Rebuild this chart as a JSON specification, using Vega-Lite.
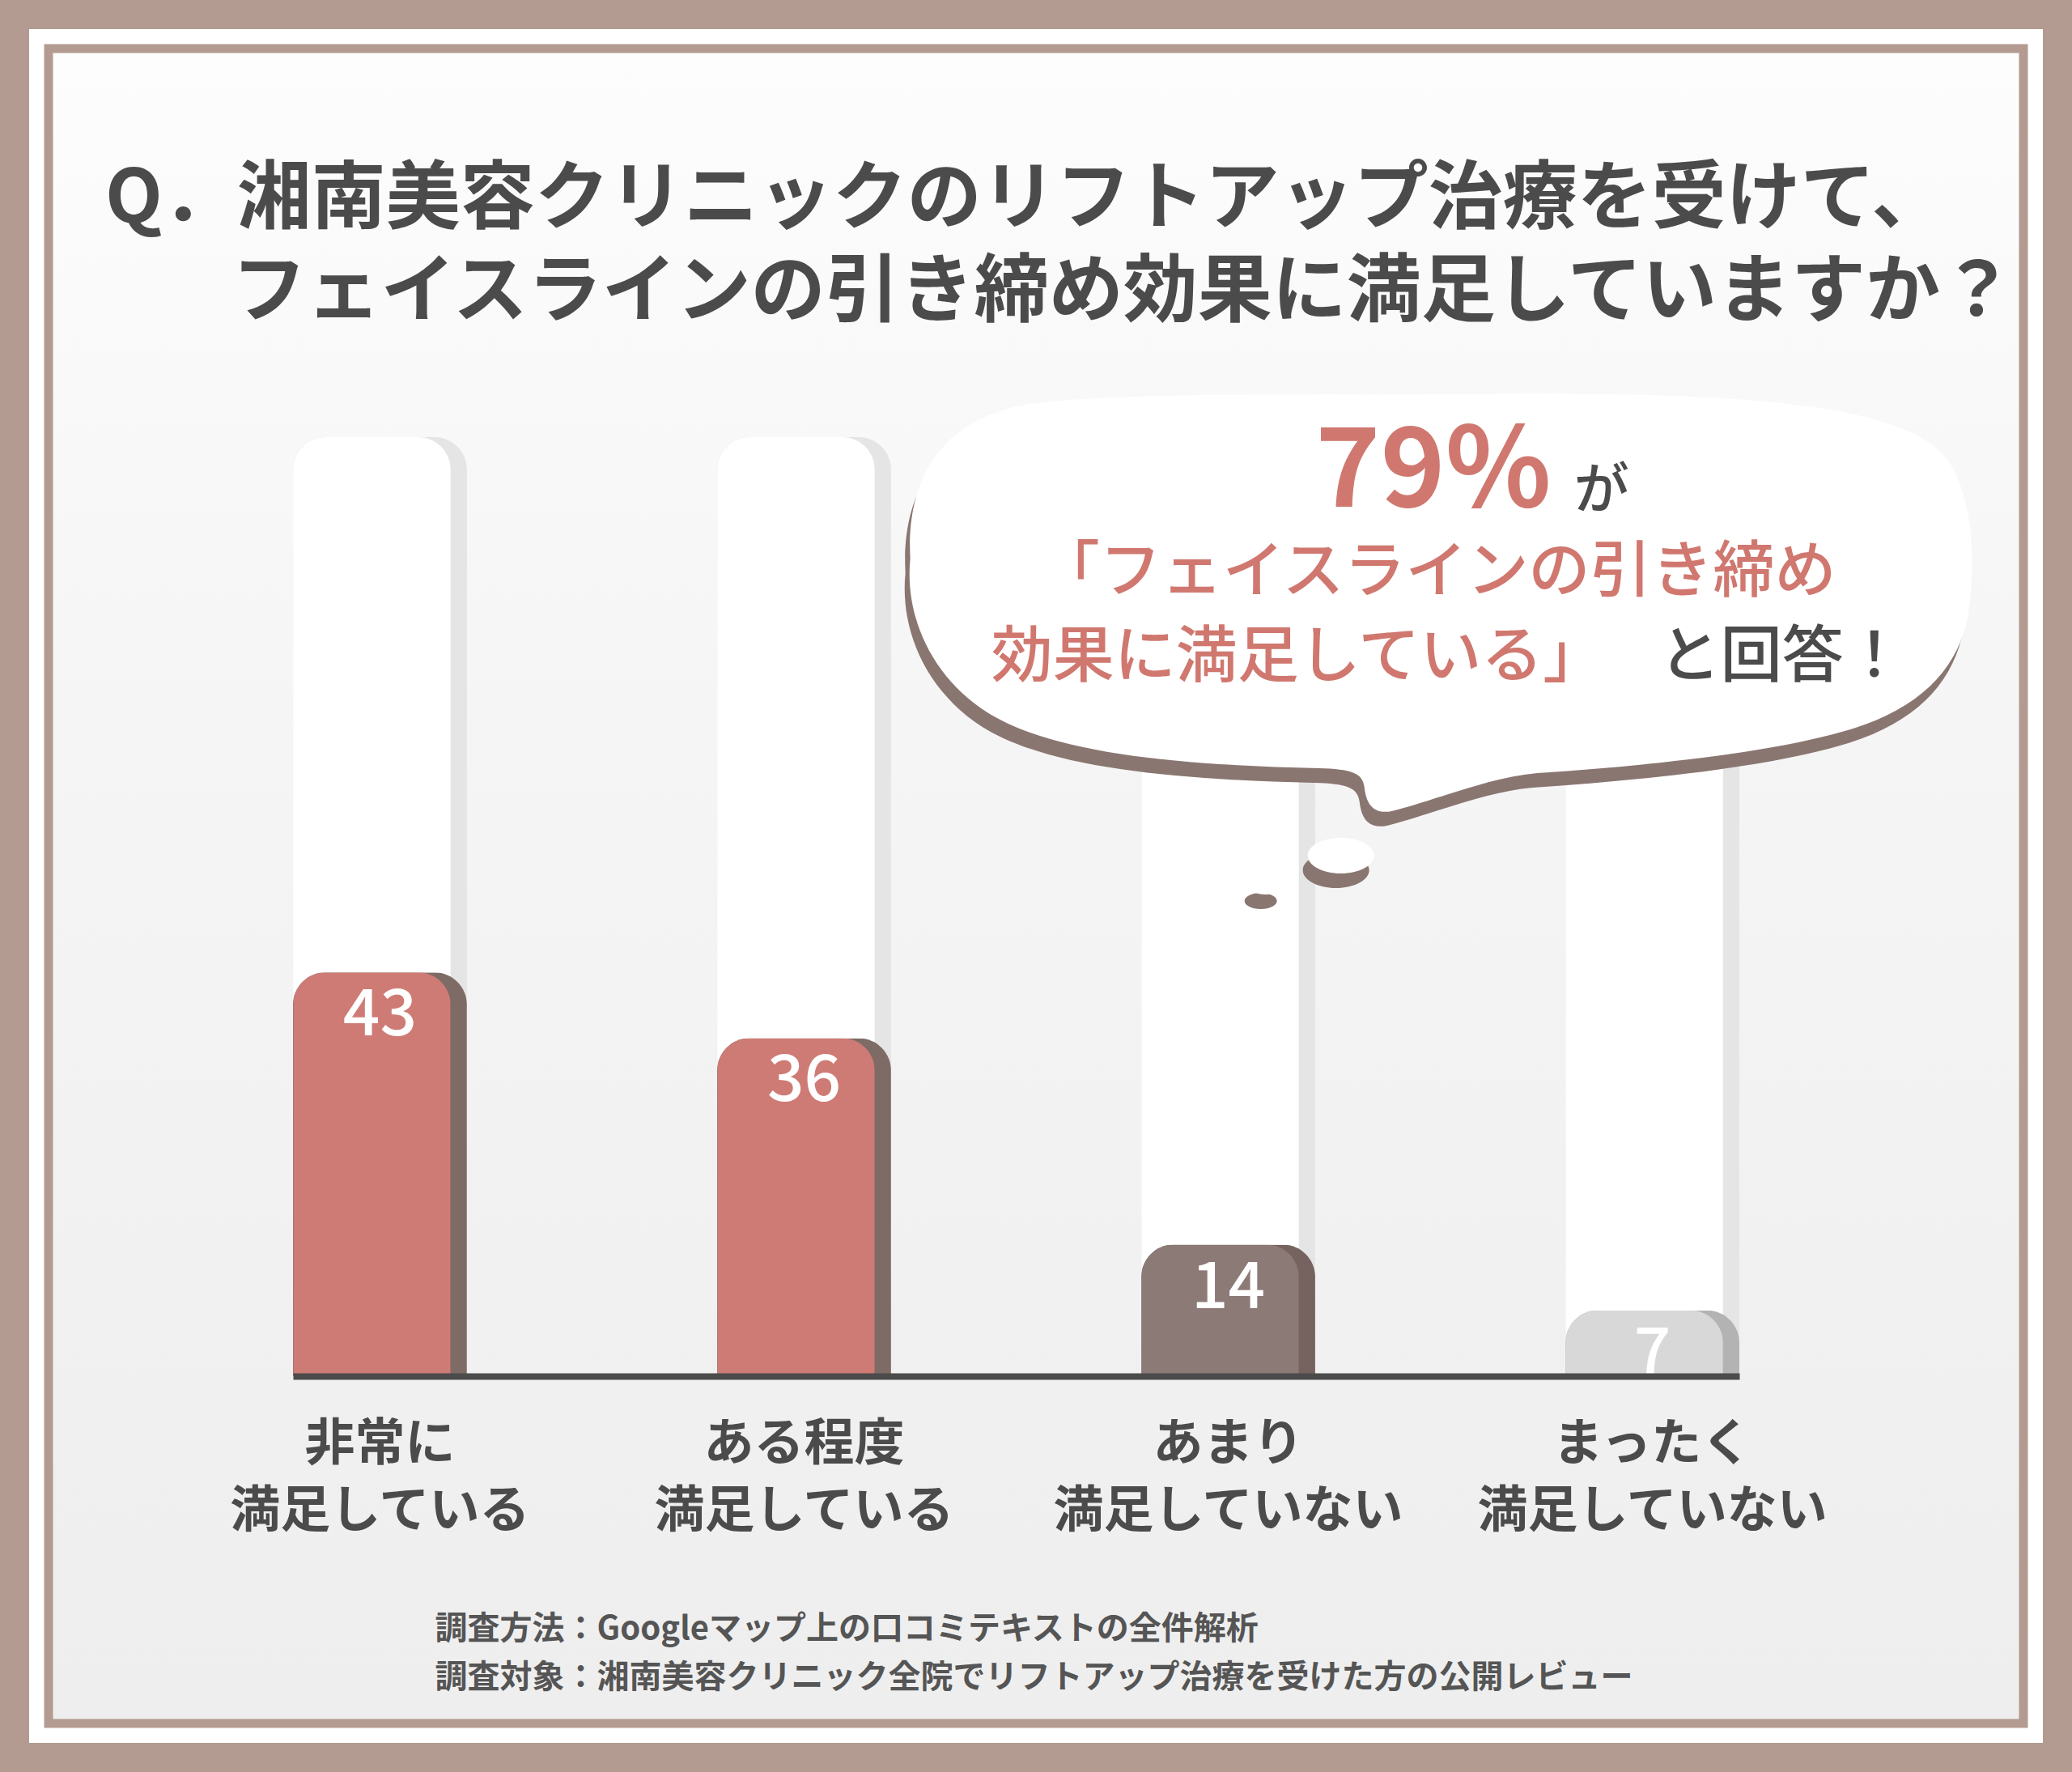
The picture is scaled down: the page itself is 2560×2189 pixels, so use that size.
{
  "$schema": "https://vega.github.io/schema/vega-lite/v6.json",
  "width": 2440,
  "height": 2069,
  "autosize": {"type": "none"},
  "padding": 60,
  "background": "#b39b91",
  "config": {"view": {"stroke": null}, "font": "Noto Sans CJK JP"},
  "title": {
    "text": ["Q．湘南美容クリニックのリフトアップ治療を受けて、", "\u200B\u3000\u2002\u2009フェイスラインの引き締め効果に満足していますか？"],
    "anchor": "start",
    "frame": "group",
    "orient": "top",
    "offset": 0,
    "dx": 70,
    "dy": 373,
    "baseline": "top",
    "lineHeight": 115,
    "fontSize": 92,
    "font": "Noto Sans CJK JP",
    "fontWeight": "bold",
    "color": "#4b4b4b"
  },
  "data": {
    "values": [
      {"category": "非常に\n満足している", "value": 43},
      {"category": "ある程度\n満足している", "value": 36},
      {"category": "あまり\n満足していない", "value": 14},
      {"category": "まったく\n満足していない", "value": 7}
    ]
  },
  "resolve": {"scale": {"color": "independent"}},
  "layer": [
    {
      "data": {"values": [{}]},
      "mark": {"type": "rect", "fill": "#ffffff", "fillOpacity": 0, "stroke": "#ffffff", "strokeWidth": 48},
      "encoding": {}
    },
    {
      "data": {"values": [{}]},
      "mark": {
        "type": "rect",
        "fill": {"gradient": "linear", "x1": 0, "y1": 0, "x2": 0, "y2": 1, "stops": [{"offset": 0, "color": "#fdfdfd"}, {"offset": 0.4, "color": "#f5f5f5"}, {"offset": 1, "color": "#eeeeee"}]},
        "stroke": "#b39b91",
        "strokeWidth": 11
      },
      "encoding": {}
    },
    {
      "mark": {"type": "bar", "color": "#e5e5e5", "cornerRadiusTopLeft": 40, "cornerRadiusTopRight": 40},
      "encoding": {
        "x": {
          "field": "category",
          "type": "nominal",
          "scale": {
            "domain": ["非常に\n満足している", "ある程度\n満足している", "あまり\n満足していない", "まったく\n満足していない"],
            "range": [302, 2089],
            "paddingInner": 0.59,
            "paddingOuter": 0
          },
          "axis": {
            "title": ["調査方法：Googleマップ上の口コミテキストの全件解析", "調査対象：湘南美容クリニック全院でリフトアップ治療を受けた方の公開レビュー"],
            "labelExpr": "split(datum.label, '\\n')",
            "labelAngle": 0,
            "labelFontSize": 62,
            "labelFont": "Noto Sans CJK JP",
            "labelFontWeight": "bold",
            "labelColor": "#4b4b4b",
            "labelLineHeight": 83,
            "labelPadding": 84,
            "labelBaseline": "middle",
            "labelLimit": 0,
            "labelOverlap": false,
            "ticks": false,
            "tickSize": 0,
            "grid": false,
            "domainColor": "#4b4b4b",
            "domainWidth": 8,
            "offset": -429,
            "zindex": 1,
            "titleX": 477,
            "titleY": 312,
            "titleAlign": "left",
            "titleAnchor": "start",
            "titleBaseline": "middle",
            "titleFontSize": 40,
            "titleFont": "Noto Sans CJK JP",
            "titleFontWeight": "bold",
            "titleColor": "#555555",
            "titleLineHeight": 60,
            "titleLimit": 0
          }
        },
        "y": {
          "datum": 100,
          "type": "quantitative",
          "scale": {"domain": [0, 100], "range": [1640, 480], "nice": false, "zero": true},
          "axis": null
        }
      }
    },
    {
      "mark": {"type": "bar", "color": "#ffffff", "width": {"band": 0.905}, "xOffset": -10, "cornerRadiusTopLeft": 40, "cornerRadiusTopRight": 40},
      "encoding": {
        "x": {"field": "category", "type": "nominal"},
        "y": {"datum": 100, "type": "quantitative"}
      }
    },
    {
      "mark": {"type": "bar", "cornerRadiusTopLeft": 40, "cornerRadiusTopRight": 40},
      "encoding": {
        "x": {"field": "category", "type": "nominal"},
        "y": {"field": "value", "type": "quantitative"},
        "color": {
          "field": "category",
          "type": "nominal",
          "scale": {
            "domain": ["非常に\n満足している", "ある程度\n満足している", "あまり\n満足していない", "まったく\n満足していない"],
            "range": ["#7f6b66", "#7f6b66", "#76625f", "#b3b3b3"]
          },
          "legend": null
        }
      }
    },
    {
      "mark": {"type": "bar", "width": {"band": 0.905}, "xOffset": -10, "cornerRadiusTopLeft": 40, "cornerRadiusTopRight": 40},
      "encoding": {
        "x": {"field": "category", "type": "nominal"},
        "y": {"field": "value", "type": "quantitative"},
        "color": {
          "field": "category",
          "type": "nominal",
          "scale": {
            "domain": ["非常に\n満足している", "ある程度\n満足している", "あまり\n満足していない", "まったく\n満足していない"],
            "range": ["#cf7b75", "#cf7b75", "#8c7a77", "#d8d8d8"]
          },
          "legend": null
        }
      }
    },
    {
      "mark": {"type": "text", "baseline": "alphabetic", "dy": 78, "fontSize": 80, "fontWeight": 500, "color": "#ffffff", "font": "Noto Sans CJK JP"},
      "encoding": {
        "x": {"field": "category", "type": "nominal"},
        "y": {"field": "value", "type": "quantitative"},
        "text": {"field": "value", "type": "quantitative"}
      }
    },
    {
      "data": {"values": [{}]},
      "mark": {
        "type": "point",
        "shape": "M 0 -258 C 320 -261 550 -255 620 -185 C 665 -135 660 -25 650 25 C 635 85 590 130 510 155 C 420 183 270 200 120 210 C 60 215 -10 245 -60 257 C -85 262 -92 245 -94 227 C -96 210 -110 205 -150 204 C -330 200 -480 185 -560 135 C -630 90 -662 15 -655 -55 C -660 -150 -620 -235 -490 -248 C -380 -260 -180 -257 0 -258 Z M -164 312 A 41 22 0 1 0 -82 312 A 41 22 0 1 0 -164 312 Z M -236 350 A 20 10 0 1 0 -196 350 A 20 10 0 1 0 -236 350 Z",
        "size": 4,
        "filled": true,
        "opacity": 1,
        "strokeWidth": 0,
        "color": "#8a7671",
        "xOffset": -6,
        "yOffset": 18
      },
      "encoding": {
        "x": {"datum": "あまり\n満足していない", "type": "nominal", "bandPosition": 1.72},
        "y": {"datum": 82.33, "type": "quantitative"}
      }
    },
    {
      "data": {"values": [{}]},
      "mark": {
        "type": "point",
        "shape": "M 0 -258 C 320 -261 550 -255 620 -185 C 665 -135 660 -25 650 25 C 635 85 590 130 510 155 C 420 183 270 200 120 210 C 60 215 -10 245 -60 257 C -85 262 -92 245 -94 227 C -96 210 -110 205 -150 204 C -330 200 -480 185 -560 135 C -630 90 -662 15 -655 -55 C -660 -150 -620 -235 -490 -248 C -380 -260 -180 -257 0 -258 Z M -164 312 A 41 22 0 1 0 -82 312 A 41 22 0 1 0 -164 312 Z M -236 350 A 20 10 0 1 0 -196 350 A 20 10 0 1 0 -236 350 Z",
        "size": 4,
        "filled": true,
        "opacity": 1,
        "strokeWidth": 0,
        "color": "#ffffff"
      },
      "encoding": {
        "x": {"datum": "あまり\n満足していない", "type": "nominal", "bandPosition": 1.72},
        "y": {"datum": 82.33, "type": "quantitative"}
      }
    },
    {
      "data": {"values": [{}]},
      "mark": {"type": "text", "text": "79%", "align": "right", "baseline": "alphabetic", "dx": 137, "fontSize": 136, "fontWeight": "bold", "color": "#d0786f", "font": "Noto Sans CJK JP"},
      "encoding": {
        "x": {"datum": "あまり\n満足していない", "type": "nominal", "bandPosition": 1.72},
        "y": {"datum": 92.6, "type": "quantitative"}
      }
    },
    {
      "data": {"values": [{}]},
      "mark": {"type": "text", "text": "が", "align": "left", "baseline": "alphabetic", "dx": 165, "fontSize": 68, "fontWeight": 500, "color": "#4b4b4b", "font": "Noto Sans CJK JP"},
      "encoding": {
        "x": {"datum": "あまり\n満足していない", "type": "nominal", "bandPosition": 1.72},
        "y": {"datum": 92.4, "type": "quantitative"}
      }
    },
    {
      "data": {"values": [{}]},
      "mark": {"type": "text", "text": "「フェイスラインの引き締め", "align": "center", "baseline": "middle", "dx": -4, "fontSize": 76, "fontWeight": 500, "color": "#d0786f", "font": "Noto Sans CJK JP"},
      "encoding": {
        "x": {"datum": "あまり\n満足していない", "type": "nominal", "bandPosition": 1.72},
        "y": {"datum": 85.5, "type": "quantitative"}
      }
    },
    {
      "data": {"values": [{}]},
      "mark": {"type": "text", "text": "効果に満足している」", "align": "left", "baseline": "middle", "dx": -555, "fontSize": 76, "fontWeight": 500, "color": "#d0786f", "font": "Noto Sans CJK JP"},
      "encoding": {
        "x": {"datum": "あまり\n満足していない", "type": "nominal", "bandPosition": 1.72},
        "y": {"datum": 76.47, "type": "quantitative"}
      }
    },
    {
      "data": {"values": [{}]},
      "mark": {"type": "text", "text": "と回答！", "align": "left", "baseline": "middle", "dx": 270, "fontSize": 76, "fontWeight": 500, "color": "#4b4b4b", "font": "Noto Sans CJK JP"},
      "encoding": {
        "x": {"datum": "あまり\n満足していない", "type": "nominal", "bandPosition": 1.72},
        "y": {"datum": 76.47, "type": "quantitative"}
      }
    }
  ]
}
